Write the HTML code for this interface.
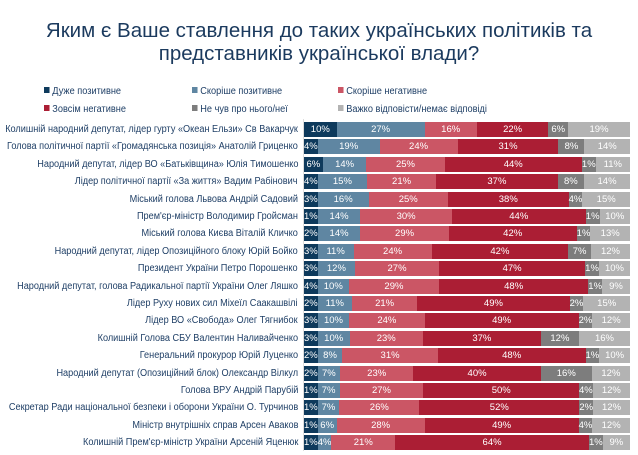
<!DOCTYPE html>
<html><head><meta charset="utf-8"><style>
body{margin:0;width:638px;height:455px;background:#fff;font-family:"Liberation Sans","DejaVu Sans",sans-serif;position:relative;overflow:hidden}
.t{position:absolute;left:0;width:638px;text-align:center;color:#1b3a5e;font-size:20.5px;line-height:23px}
.lg{position:absolute;font-size:10px;color:#1f3f66;transform:scaleX(0.92);transform-origin:left}
.lg i{display:inline-block;width:6px;height:6px;margin-right:3px;vertical-align:1px}
.row{position:absolute;left:0;width:638px;height:15px}
.lab{position:absolute;right:340px;top:0;line-height:15px;font-size:10px;color:#1f3f66;white-space:nowrap;transform:scaleX(0.915);transform-origin:right}
.bar{position:absolute;left:304px;width:326px;top:0;height:15px;display:flex}
.bar span{display:block;height:15px;line-height:15px;text-align:center;color:#fff;font-size:9.5px;white-space:nowrap;overflow:visible}
.a{background:#0e3a5c}.b{background:#5f86a2}.c{background:#cb5665}.d{background:#ab1e34}.e{background:#7d7d7d}.f{background:#b3b3b3}
.axis{position:absolute;left:303px;top:119px;width:1px;height:332px;background:#ddd}
</style></head><body>
<div class="t" style="top:19px">Яким є Ваше ставлення до таких українських політиків та</div>
<div class="t" style="top:42px">представників української влади?</div>
<div class="lg" style="left:44px;top:86px"><i style="background:#0e3a5c"></i>Дуже позитивне</div>
<div class="lg" style="left:192px;top:86px"><i style="background:#5f86a2"></i>Скоріше позитивне</div>
<div class="lg" style="left:338px;top:86px"><i style="background:#cb5665"></i>Скоріше негативне</div>
<div class="lg" style="left:44px;top:104px"><i style="background:#ab1e34"></i>Зовсім негативне</div>
<div class="lg" style="left:192px;top:104px"><i style="background:#7d7d7d"></i>Не чув про нього/неї</div>
<div class="lg" style="left:338px;top:104px"><i style="background:#b3b3b3"></i>Важко відповісти/немає відповіді</div>
<div class="axis"></div>

<div class="row" style="top:122px"><div class="lab">Колишній народний депутат, лідер гурту «Океан Ельзи» Св Вакарчук</div><div class="bar"><span class="a" style="flex:10">10%</span><span class="b" style="flex:27">27%</span><span class="c" style="flex:16">16%</span><span class="d" style="flex:22">22%</span><span class="e" style="flex:6">6%</span><span class="f" style="flex:19">19%</span></div></div>
<div class="row" style="top:139.4px"><div class="lab">Голова політичної партії «Громадянська позиція» Анатолій Гриценко</div><div class="bar"><span class="a" style="flex:4">4%</span><span class="b" style="flex:19">19%</span><span class="c" style="flex:24">24%</span><span class="d" style="flex:31">31%</span><span class="e" style="flex:8">8%</span><span class="f" style="flex:14">14%</span></div></div>
<div class="row" style="top:156.8px"><div class="lab">Народний депутат, лідер ВО «Батьківщина» Юлія Тимошенко</div><div class="bar"><span class="a" style="flex:6">6%</span><span class="b" style="flex:14">14%</span><span class="c" style="flex:25">25%</span><span class="d" style="flex:44">44%</span><span class="e" style="flex:1">1%</span><span class="f" style="flex:11">11%</span></div></div>
<div class="row" style="top:174.2px"><div class="lab">Лідер політичної партії «За життя» Вадим Рабінович</div><div class="bar"><span class="a" style="flex:4">4%</span><span class="b" style="flex:15">15%</span><span class="c" style="flex:21">21%</span><span class="d" style="flex:37">37%</span><span class="e" style="flex:8">8%</span><span class="f" style="flex:14">14%</span></div></div>
<div class="row" style="top:191.6px"><div class="lab">Міський голова Львова Андрій Садовий</div><div class="bar"><span class="a" style="flex:3">3%</span><span class="b" style="flex:16">16%</span><span class="c" style="flex:25">25%</span><span class="d" style="flex:38">38%</span><span class="e" style="flex:4">4%</span><span class="f" style="flex:15">15%</span></div></div>
<div class="row" style="top:209px"><div class="lab">Прем'єр-міністр Володимир Гройсман</div><div class="bar"><span class="a" style="flex:1">1%</span><span class="b" style="flex:14">14%</span><span class="c" style="flex:30">30%</span><span class="d" style="flex:44">44%</span><span class="e" style="flex:1">1%</span><span class="f" style="flex:10">10%</span></div></div>
<div class="row" style="top:226.4px"><div class="lab">Міський голова Києва Віталій Кличко</div><div class="bar"><span class="a" style="flex:2">2%</span><span class="b" style="flex:14">14%</span><span class="c" style="flex:29">29%</span><span class="d" style="flex:42">42%</span><span class="e" style="flex:1">1%</span><span class="f" style="flex:13">13%</span></div></div>
<div class="row" style="top:243.8px"><div class="lab">Народний депутат, лідер Опозиційного блоку Юрій Бойко</div><div class="bar"><span class="a" style="flex:3">3%</span><span class="b" style="flex:11">11%</span><span class="c" style="flex:24">24%</span><span class="d" style="flex:42">42%</span><span class="e" style="flex:7">7%</span><span class="f" style="flex:12">12%</span></div></div>
<div class="row" style="top:261.2px"><div class="lab">Президент України Петро Порошенко</div><div class="bar"><span class="a" style="flex:3">3%</span><span class="b" style="flex:12">12%</span><span class="c" style="flex:27">27%</span><span class="d" style="flex:47">47%</span><span class="e" style="flex:1">1%</span><span class="f" style="flex:10">10%</span></div></div>
<div class="row" style="top:278.6px"><div class="lab">Народний депутат, голова Радикальної партії України Олег Ляшко</div><div class="bar"><span class="a" style="flex:4">4%</span><span class="b" style="flex:10">10%</span><span class="c" style="flex:29">29%</span><span class="d" style="flex:48">48%</span><span class="e" style="flex:1">1%</span><span class="f" style="flex:9">9%</span></div></div>
<div class="row" style="top:296px"><div class="lab">Лідер Руху нових сил Міхеїл Саакашвілі</div><div class="bar"><span class="a" style="flex:2">2%</span><span class="b" style="flex:11">11%</span><span class="c" style="flex:21">21%</span><span class="d" style="flex:49">49%</span><span class="e" style="flex:2">2%</span><span class="f" style="flex:15">15%</span></div></div>
<div class="row" style="top:313.4px"><div class="lab">Лідер ВО «Свобода» Олег Тягнибок</div><div class="bar"><span class="a" style="flex:3">3%</span><span class="b" style="flex:10">10%</span><span class="c" style="flex:24">24%</span><span class="d" style="flex:49">49%</span><span class="e" style="flex:2">2%</span><span class="f" style="flex:12">12%</span></div></div>
<div class="row" style="top:330.8px"><div class="lab">Колишній Голова СБУ Валентин Наливайченко</div><div class="bar"><span class="a" style="flex:3">3%</span><span class="b" style="flex:10">10%</span><span class="c" style="flex:23">23%</span><span class="d" style="flex:37">37%</span><span class="e" style="flex:12">12%</span><span class="f" style="flex:16">16%</span></div></div>
<div class="row" style="top:348.2px"><div class="lab">Генеральний прокурор Юрій Луценко</div><div class="bar"><span class="a" style="flex:2">2%</span><span class="b" style="flex:8">8%</span><span class="c" style="flex:31">31%</span><span class="d" style="flex:48">48%</span><span class="e" style="flex:1">1%</span><span class="f" style="flex:10">10%</span></div></div>
<div class="row" style="top:365.6px"><div class="lab">Народний депутат (Опозиційний блок) Олександр Вілкул</div><div class="bar"><span class="a" style="flex:2">2%</span><span class="b" style="flex:7">7%</span><span class="c" style="flex:23">23%</span><span class="d" style="flex:40">40%</span><span class="e" style="flex:16">16%</span><span class="f" style="flex:12">12%</span></div></div>
<div class="row" style="top:383px"><div class="lab">Голова ВРУ Андрій Парубій</div><div class="bar"><span class="a" style="flex:1">1%</span><span class="b" style="flex:7">7%</span><span class="c" style="flex:27">27%</span><span class="d" style="flex:50">50%</span><span class="e" style="flex:4">4%</span><span class="f" style="flex:12">12%</span></div></div>
<div class="row" style="top:400.4px"><div class="lab">Секретар Ради національної безпеки і оборони України О. Турчинов</div><div class="bar"><span class="a" style="flex:1">1%</span><span class="b" style="flex:7">7%</span><span class="c" style="flex:26">26%</span><span class="d" style="flex:52">52%</span><span class="e" style="flex:2">2%</span><span class="f" style="flex:12">12%</span></div></div>
<div class="row" style="top:417.8px"><div class="lab">Міністр внутрішніх справ Арсен Аваков</div><div class="bar"><span class="a" style="flex:1">1%</span><span class="b" style="flex:6">6%</span><span class="c" style="flex:28">28%</span><span class="d" style="flex:49">49%</span><span class="e" style="flex:4">4%</span><span class="f" style="flex:12">12%</span></div></div>
<div class="row" style="top:435.2px"><div class="lab">Колишній Прем'єр-міністр України Арсеній Яценюк</div><div class="bar"><span class="a" style="flex:1">1%</span><span class="b" style="flex:4">4%</span><span class="c" style="flex:21">21%</span><span class="d" style="flex:64">64%</span><span class="e" style="flex:1">1%</span><span class="f" style="flex:9">9%</span></div></div>
</body></html>
